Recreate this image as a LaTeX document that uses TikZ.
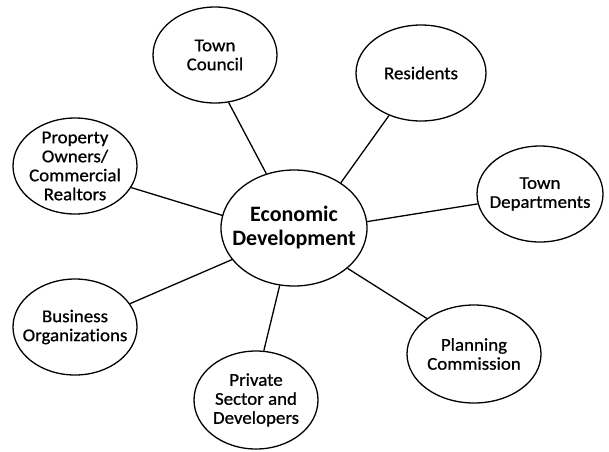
\documentclass[tikz,border=0pt]{standalone}
\usepackage{fontspec}
\setmainfont{Carlito}[Ligatures=NoCommon]
\newfontfamily\bubblefont{Carlito}[Ligatures=NoCommon,FakeBold=0.8,FakeStretch=1.05]
\usetikzlibrary{shapes.geometric}
\begin{document}
\begin{tikzpicture}[x=1pt,y=-1pt,
  bubble/.style={draw,ellipse,line width=1.3pt,inner xsep=-25pt,inner ysep=-20pt,minimum width=124pt,minimum height=96pt,align=center,font=\bubblefont\fontsize{18}{19}\selectfont},
  hub/.style={bubble,minimum width=146pt,minimum height=116pt,font=\fontsize{22}{24}\selectfont\bfseries}]
\useasboundingbox (0,0) rectangle (609,451);
\node[hub] (eco) at (294,228) {Economic\\Development};
\node[bubble] (council) at (215,55) {Town\\Council};
\node[bubble,minimum width=130pt] (residents) at (421,73) {Residents};
\node[bubble] (property) at (75,166) {Property\\Owners/\\Commercial\\Realtors};
\node[bubble,minimum width=126pt] (depts) at (540,194) {Town\\Departments};
\node[bubble] (business) at (75,327) {Business\\Organizations};
\node[bubble,minimum height=98pt] (private) at (256,400) {Private\\Sector and\\Developers};
\node[bubble,minimum width=134pt,minimum height=98pt] (planning) at (474,354) {Planning\\Commission};
\draw[line width=1.3pt] (council.286) -- (eco.117);
\draw[line width=1.3pt] (residents.233) -- (eco.44);
\draw[line width=1.3pt] (property.339) -- (eco.170);
\draw[line width=1.3pt] (depts.189) -- (eco.5);
\draw[line width=1.3pt] (business.23) -- (eco.207);
\draw[line width=1.3pt] (private.81) -- (eco.256);
\draw[line width=1.3pt] (planning.143) -- (eco.323);
\end{tikzpicture}
\end{document}
